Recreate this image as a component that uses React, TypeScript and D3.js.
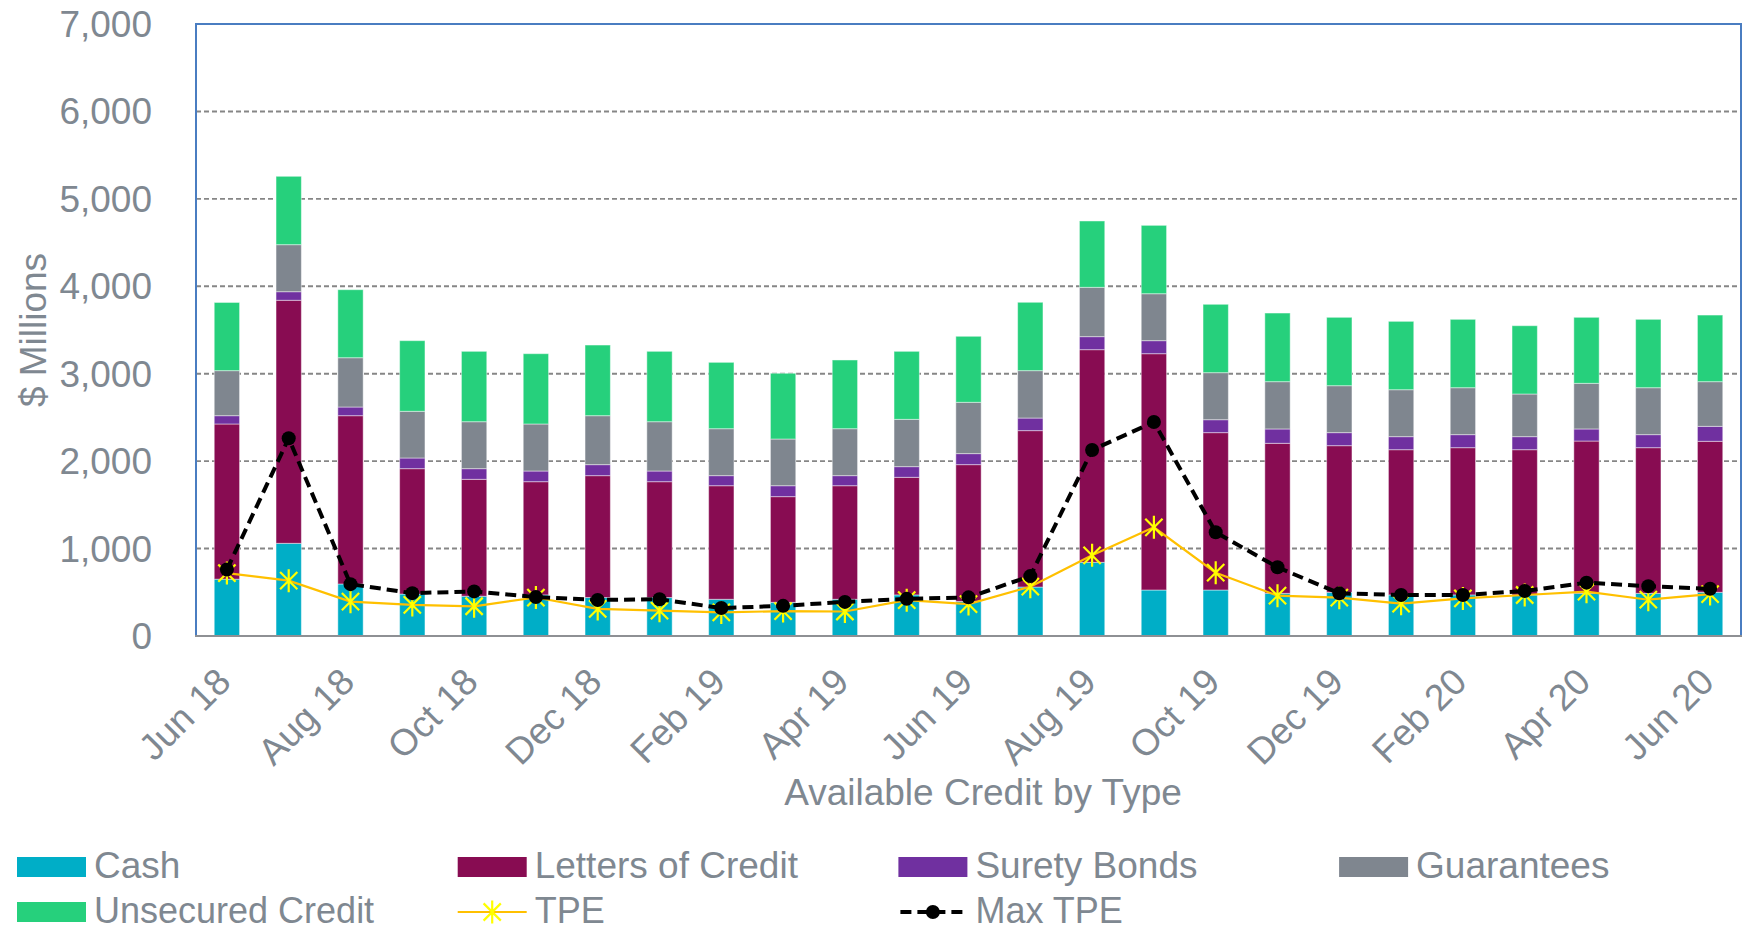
import React from "react";
import * as d3 from "d3";

const months = [
  "Jun 18", "Jul 18", "Aug 18", "Sep 18", "Oct 18", "Nov 18", "Dec 18",
  "Jan 19", "Feb 19", "Mar 19", "Apr 19", "May 19", "Jun 19", "Jul 19",
  "Aug 19", "Sep 19", "Oct 19", "Nov 19", "Dec 19", "Jan 20", "Feb 20",
  "Mar 20", "Apr 20", "May 20", "Jun 20",
];
const tickLabels = [
  "Jun 18", "Aug 18", "Oct 18", "Dec 18", "Feb 19", "Apr 19", "Jun 19",
  "Aug 19", "Oct 19", "Dec 19", "Feb 20", "Apr 20", "Jun 20",
];
const cash = [650, 1060, 595, 480, 455, 470, 440, 440, 420, 385, 420, 470, 395, 560, 843, 526, 526, 488, 500, 470, 470, 469, 488, 488, 500];
const lettersOfCredit = [1775, 2780, 1925, 1434, 1337, 1295, 1394, 1325, 1299, 1209, 1299, 1345, 1565, 1789, 2432, 2703, 1800, 1716, 1677, 1661, 1684, 1662, 1742, 1666, 1727];
const suretyBonds = [95, 98, 99, 122, 122, 122, 126, 122, 115, 125, 115, 122, 126, 144, 149, 149, 148, 164, 149, 149, 149, 149, 138, 149, 171];
const guarantees = [515, 538, 564, 534, 537, 538, 560, 564, 537, 534, 537, 541, 587, 542, 564, 537, 538, 541, 537, 537, 537, 488, 522, 537, 511];
const unsecuredCredit = [780, 782, 778, 808, 805, 804, 808, 805, 759, 752, 786, 778, 755, 782, 759, 782, 782, 785, 782, 782, 782, 781, 755, 782, 762];
const tpe = [720, 633, 393, 355, 340, 440, 310, 290, 270, 285, 280, 410, 365, 564, 923, 1243, 724, 461, 438, 370, 430, 469, 507, 415, 480];
const maxTpe = [760, 2261, 593, 490, 510, 445, 412, 420, 320, 345, 390, 425, 442, 685, 2127, 2448, 1186, 786, 488, 469, 469, 515, 610, 570, 540];
const yTicks = [0, 1000, 2000, 3000, 4000, 5000, 6000, 7000];

const seriesNames = ["Cash", "Letters of Credit", "Surety Bonds", "Guarantees", "Unsecured Credit"];
const seriesColors = ["#00AEC7", "#880C52", "#7030A0", "#7F868F", "#26D07C"];

const FONT = "'Liberation Sans', Arial, Helvetica, sans-serif";
const TXT = "#7F8891";

function starPath(s: number) {
  const d = s * 0.75;
  return `M0,${-s}L0,${s}M${-d},${-d}L${d},${d}M${-d},${d}L${d},${-d}`;
}

export default function App() {
  const W = 1750, H = 931;
  const left = 196, right = 1741, top = 24, bottom = 636;

  const x = d3.scaleBand<number>()
    .domain(months.map((_, i) => i))
    .range([left, right])
    .paddingInner(0.59)
    .paddingOuter(0.295);
  const y = d3.scaleLinear().domain([0, 7000]).range([bottom, top]);

  const rows = months.map((m, i) => ({
    i,
    "Cash": cash[i],
    "Letters of Credit": lettersOfCredit[i],
    "Surety Bonds": suretyBonds[i],
    "Guarantees": guarantees[i],
    "Unsecured Credit": unsecuredCredit[i],
  }));
  const stacked = d3.stack<any>().keys(seriesNames)(rows);

  const cx = (i: number) => (x(i) as number) + x.bandwidth() / 2;
  const line = d3.line<number>().x((_, i) => cx(i)).y((d) => y(d));

  const legendItems = [
    { name: "Cash", type: "rect", color: seriesColors[0] },
    { name: "Letters of Credit", type: "rect", color: seriesColors[1] },
    { name: "Surety Bonds", type: "rect", color: seriesColors[2] },
    { name: "Guarantees", type: "rect", color: seriesColors[3] },
    { name: "Unsecured Credit", type: "rect", color: seriesColors[4] },
    { name: "TPE", type: "tpe", color: "#FFC000" },
    { name: "Max TPE", type: "max", color: "#000" },
  ];

  return (
    <svg width={W} height={H} style={{ position: "absolute", left: 0, top: 0, background: "#fff" }}>
      <rect x={0} y={0} width={W} height={H} fill="#fff" />
      {/* gridlines */}
      {yTicks.filter((t) => t > 0 && t < 7000).map((t) => (
        <line key={t} x1={left} x2={right} y1={y(t)} y2={y(t)} stroke="#868686" strokeWidth={1.9} strokeDasharray="5,3" />
      ))}
      {/* bars */}
      {stacked.map((s, si) => (
        <g key={s.key} fill={seriesColors[si]}>
          {s.map((d, i) => (
            <rect key={i} x={x(i)} y={y(d[1])} width={x.bandwidth()} height={y(d[0]) - y(d[1])}
              stroke="rgba(255,255,255,0.45)" strokeWidth={1} />
          ))}
        </g>
      ))}
      {/* plot border */}
      <path d={`M${left},${bottom}V${top}H${right}V${bottom}`} fill="none" stroke="#4A7DC1" strokeWidth={2} />
      <line x1={left - 1} x2={right + 1} y1={bottom} y2={bottom} stroke="#8E9094" strokeWidth={2.2} />
      {/* TPE line */}
      <path d={line(tpe) || ""} fill="none" stroke="#FFC000" strokeWidth={2.2} />
      {tpe.map((v, i) => (
        <path key={i} d={starPath(11.5)} transform={`translate(${cx(i)},${y(v)})`} stroke="#FFFF00" strokeWidth={2.2} fill="none" />
      ))}
      {/* Max TPE */}
      <path d={line(maxTpe) || ""} fill="none" stroke="#000" strokeWidth={4} strokeDasharray="11,6" />
      {maxTpe.map((v, i) => (
        <circle key={i} cx={cx(i)} cy={y(v)} r={7} fill="#000" />
      ))}
      {/* y ticks */}
      {yTicks.map((t) => (
        <text key={t} x={152} y={y(t) + 13} textAnchor="end" fontFamily={FONT} fontSize={37} fill={TXT}>
          {d3.format(",")(t)}
        </text>
      ))}
      <text transform={`translate(46,330) rotate(-90)`} textAnchor="middle" fontFamily={FONT} fontSize={37} fill={TXT}>$ Millions</text>
      {/* x ticks */}
      {tickLabels.map((lab) => {
        const i = months.indexOf(lab);
        return (
          <text key={lab} transform={`translate(${cx(i) + 6},${bottom + 48}) rotate(-45)`} textAnchor="end"
            fontFamily={FONT} fontSize={37} fill={TXT}>{lab}</text>
        );
      })}
      <text x={983} y={805} textAnchor="middle" fontFamily={FONT} fontSize={37} fill={TXT}>Available Credit by Type</text>
      {/* legend */}
      {legendItems.map((it, k) => {
        const col = k % 4, row = Math.floor(k / 4);
        const lx = 17 + col * 440.7;
        const ly = row === 0 ? 867 : 912;
        return (
          <g key={it.name}>
            {it.type === "rect" && <rect x={lx} y={ly - 10} width={69} height={20} fill={it.color} />}
            {it.type === "tpe" && (
              <g>
                <line x1={lx} x2={lx + 69} y1={ly} y2={ly} stroke="#FFC000" strokeWidth={2.2} />
                <path d={starPath(11.5)} transform={`translate(${lx + 34.5},${ly})`} stroke="#FFFF00" strokeWidth={2.2} fill="none" />
              </g>
            )}
            {it.type === "max" && (
              <g>
                <line x1={lx} x2={lx + 69} y1={ly} y2={ly} stroke="#000" strokeWidth={4} strokeDasharray="11,6" strokeDashoffset={-2} />
                <circle cx={lx + 34.5} cy={ly} r={7} fill="#000" />
              </g>
            )}
            <text x={lx + 77} y={ly + 11} fontFamily={FONT} fontSize={row === 0 ? 37 : 36} fill={TXT}>{it.name}</text>
          </g>
        );
      })}
    </svg>
  );
}
